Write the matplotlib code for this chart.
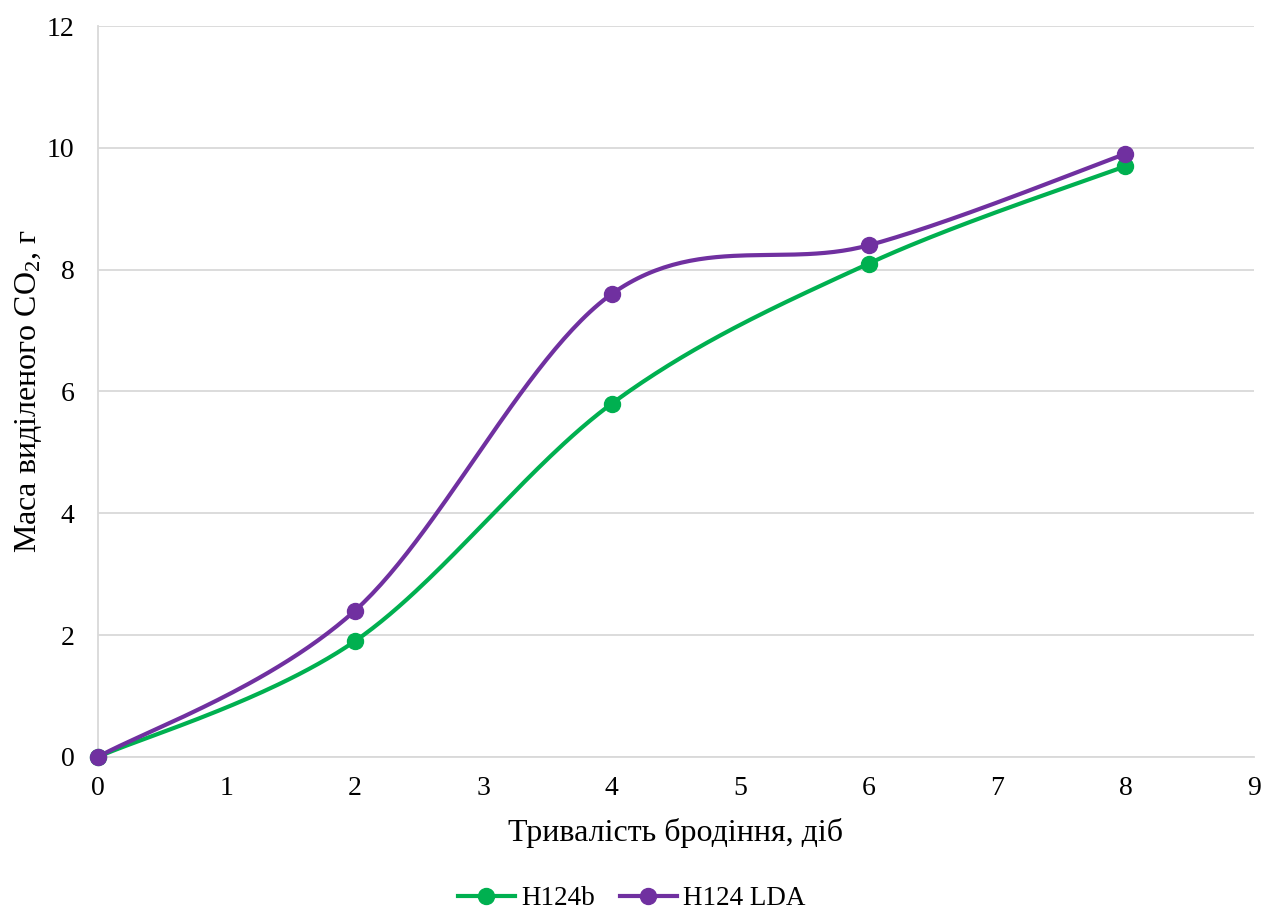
import numpy as np
import matplotlib
matplotlib.use("Agg")
import matplotlib.pyplot as plt
from matplotlib.lines import Line2D

plt.rcParams['font.family'] = ['Liberation Serif', 'DejaVu Serif']
plt.rcParams['mathtext.fontset'] = 'custom'
plt.rcParams['mathtext.rm'] = 'Liberation Serif'
plt.rcParams['mathtext.it'] = 'Liberation Serif:italic'

days = [0, 2, 4, 6, 8]
h124b = [0, 1.9, 5.8, 8.1, 9.7]
h124_lda = [0, 2.4, 7.6, 8.4, 9.9]
series_names = ["H124b", "H124 LDA"]
colors = ["#00B050", "#7030A0"]
x_ticks = list(range(0, 10))
y_ticks = list(range(0, 13, 2))


def smooth(xs, ys, n=60):
    P = np.column_stack([xs, ys]).astype(float)
    m = len(P)
    out = []
    for i in range(m - 1):
        p0 = P[i - 1] if i > 0 else P[i]
        p1 = P[i]
        p2 = P[i + 1]
        p3 = P[i + 2] if i + 2 < m else P[i + 1]
        c1 = p1 + (p2 - p0) / 6.0
        c2 = p2 - (p3 - p1) / 6.0
        t = np.linspace(0, 1, n)[:, None]
        seg = ((1 - t) ** 3) * p1 + 3 * ((1 - t) ** 2) * t * c1 + 3 * (1 - t) * t ** 2 * c2 + t ** 3 * p2
        if i > 0:
            seg = seg[1:]
        out.append(seg)
    out = np.vstack(out)
    return out[:, 0], out[:, 1]


fig = plt.figure(figsize=(12.64, 9.13), dpi=100)
ax = fig.add_axes([0.0775, 0.1709, 0.9145, 0.8006])

handles = []
for ys, name, c in zip([h124b, h124_lda], series_names, colors):
    sx, sy = smooth(days, ys)
    ax.plot(sx, sy, color=c, lw=3, solid_capstyle='round', zorder=3, clip_on=False)
    ax.plot(days, ys, 'o', color=c, ms=11.5, zorder=4, clip_on=False)
    handles.append(Line2D([], [], color=c, lw=3, marker='o', ms=11.5))

ax.set_xlim(0, 9)
ax.set_ylim(0, 12)
ax.set_xticks(x_ticks)
ax.set_yticks(y_ticks)
ax.grid(axis='y', color='#D9D9D9', lw=1.3)
ax.set_axisbelow(True)
for s in ['top', 'right']:
    ax.spines[s].set_visible(False)
for s in ['left', 'bottom']:
    ax.spines[s].set_color('#D9D9D9')
    ax.spines[s].set_linewidth(1.3)
ax.tick_params(length=0, labelsize=20, pad=14, colors='black')
ax.tick_params(axis='y', pad=17)

ax.set_xlabel("Тривалість бродіння, діб", fontsize=23, labelpad=12)
ax.set_ylabel("Маса виділеного CO$_2$, г", fontsize=23)
ax.yaxis.set_label_coords(-0.047, 0.5)

fig.legend(handles, series_names, loc='lower center', bbox_to_anchor=(0.5, -0.025),
           ncol=2, frameon=False, fontsize=19.5, handlelength=2.1, columnspacing=0.9,
           handletextpad=0.25)

fig.savefig("out.png", dpi=100)
